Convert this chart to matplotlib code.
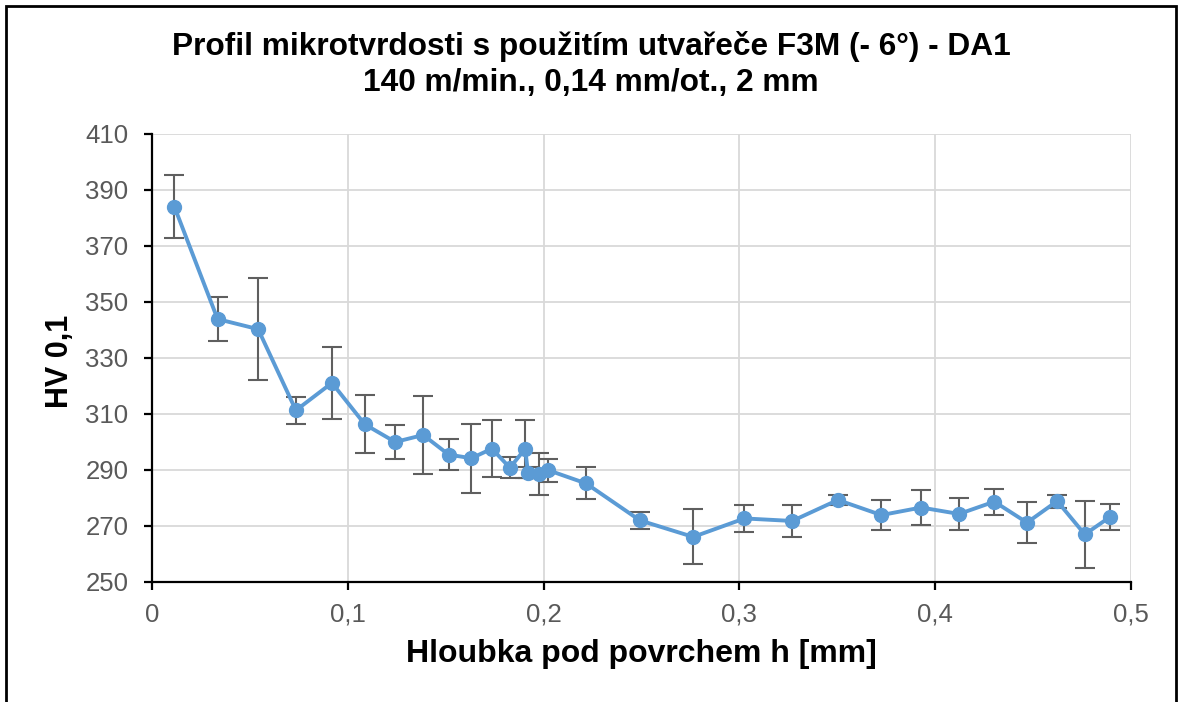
import matplotlib
matplotlib.use("Agg")
import matplotlib.pyplot as plt
from matplotlib.patches import Rectangle

# Microhardness profile: depth below surface [mm], HV 0.1 and its scatter
depth = [0.0114, 0.0335, 0.0542, 0.0735, 0.0919, 0.1087, 0.1242, 0.1385,
         0.1515, 0.1631, 0.1736, 0.1828, 0.1906, 0.1920, 0.1974, 0.2025,
         0.2217, 0.2492, 0.2764, 0.3026, 0.3270, 0.3503, 0.3725, 0.3928,
         0.4122, 0.4302, 0.4469, 0.4623, 0.4764, 0.4892]
hardness = [384.1, 343.9, 340.3, 311.3, 321.1, 306.3, 300.0, 302.5,
            295.5, 294.2, 297.6, 290.8, 297.6, 289.0, 288.5, 289.9,
            285.2, 272.0, 266.1, 272.7, 271.8, 279.3, 273.9, 276.6,
            274.3, 278.7, 271.2, 278.9, 267.0, 273.2]
spread = [11.1, 7.8, 18.2, 4.8, 12.8, 10.4, 6.1, 13.8,
          5.4, 12.3, 10.2, 3.7, 10.4, 2.0, 7.6, 4.2,
          5.7, 3.0, 9.8, 4.8, 5.6, 1.8, 5.3, 6.3,
          5.6, 4.6, 7.4, 2.3, 12.0, 4.7]

x_ticks = [0, 0.1, 0.2, 0.3, 0.4, 0.5]
x_labels = ["0", "0,1", "0,2", "0,3", "0,4", "0,5"]
y_ticks = [250, 270, 290, 310, 330, 350, 370, 390, 410]

title_1 = "Profil mikrotvrdosti s použitím utvařeče F3M (- 6°) - DA1"
title_2 = "140 m/min., 0,14 mm/ot., 2 mm"
x_title = "Hloubka pod povrchem h [mm]"
y_title = "HV 0,1"

plt.rcParams["font.family"] = ["Liberation Sans", "DejaVu Sans"]

W, H = 1179, 702
fig = plt.figure(figsize=(W / 100, H / 100), dpi=100)
ax = fig.add_axes([152 / W, 1 - 582 / H, (1131 - 152) / W, (582 - 134) / H])

line_blue = "#5b9bd5"
grey_txt = "#595959"

ax.errorbar(depth, hardness, yerr=spread, color=line_blue, lw=2.8,
            marker="o", ms=10, mfc=line_blue, mec=line_blue,
            ecolor="#5f5f5f", elinewidth=1.5, capsize=7.5, capthick=1.5,
            zorder=3)

ax.set_xlim(0, 0.5)
ax.set_ylim(250, 410)
ax.set_xticks(x_ticks)
ax.set_xticklabels(x_labels)
ax.set_yticks(y_ticks)
ax.grid(True, color="#d9d9d9", lw=1.3, zorder=0)
ax.set_axisbelow(True)

for side in ("top", "right"):
    ax.spines[side].set_visible(False)
for side in ("left", "bottom"):
    ax.spines[side].set_color("black")
    ax.spines[side].set_linewidth(1.6)

ax.tick_params(axis="both", direction="out", length=6, width=1.6,
               color="black", labelcolor=grey_txt, labelsize=18.5)
ax.tick_params(axis="y", pad=11)
ax.tick_params(axis="x", pad=9)

ax.set_xlabel(x_title, fontsize=23, fontweight="bold", color="black",
              va="center")
ax.xaxis.set_label_coords(0.5, (582 - 654) / 448)
ax.set_ylabel(y_title, fontsize=22, fontweight="bold", color="black",
              va="center")
ax.yaxis.set_label_coords((60 - 152) / 979, (582 - 361) / 448)

fig.text(591 / W, 1 - 47 / H, title_1, ha="center", va="center",
         fontsize=22.8, fontweight="bold", color="black")
fig.text(591 / W, 1 - 83 / H, title_2, ha="center", va="center",
         fontsize=22.8, fontweight="bold", color="black")

# chart frame
fig.patches.append(Rectangle((6 / W, -0.05), (1176 - 6) / W, 1.05 - 6 / H,
                             transform=fig.transFigure, fill=False,
                             edgecolor="black", lw=2))

fig.savefig("out.png", dpi=100)
